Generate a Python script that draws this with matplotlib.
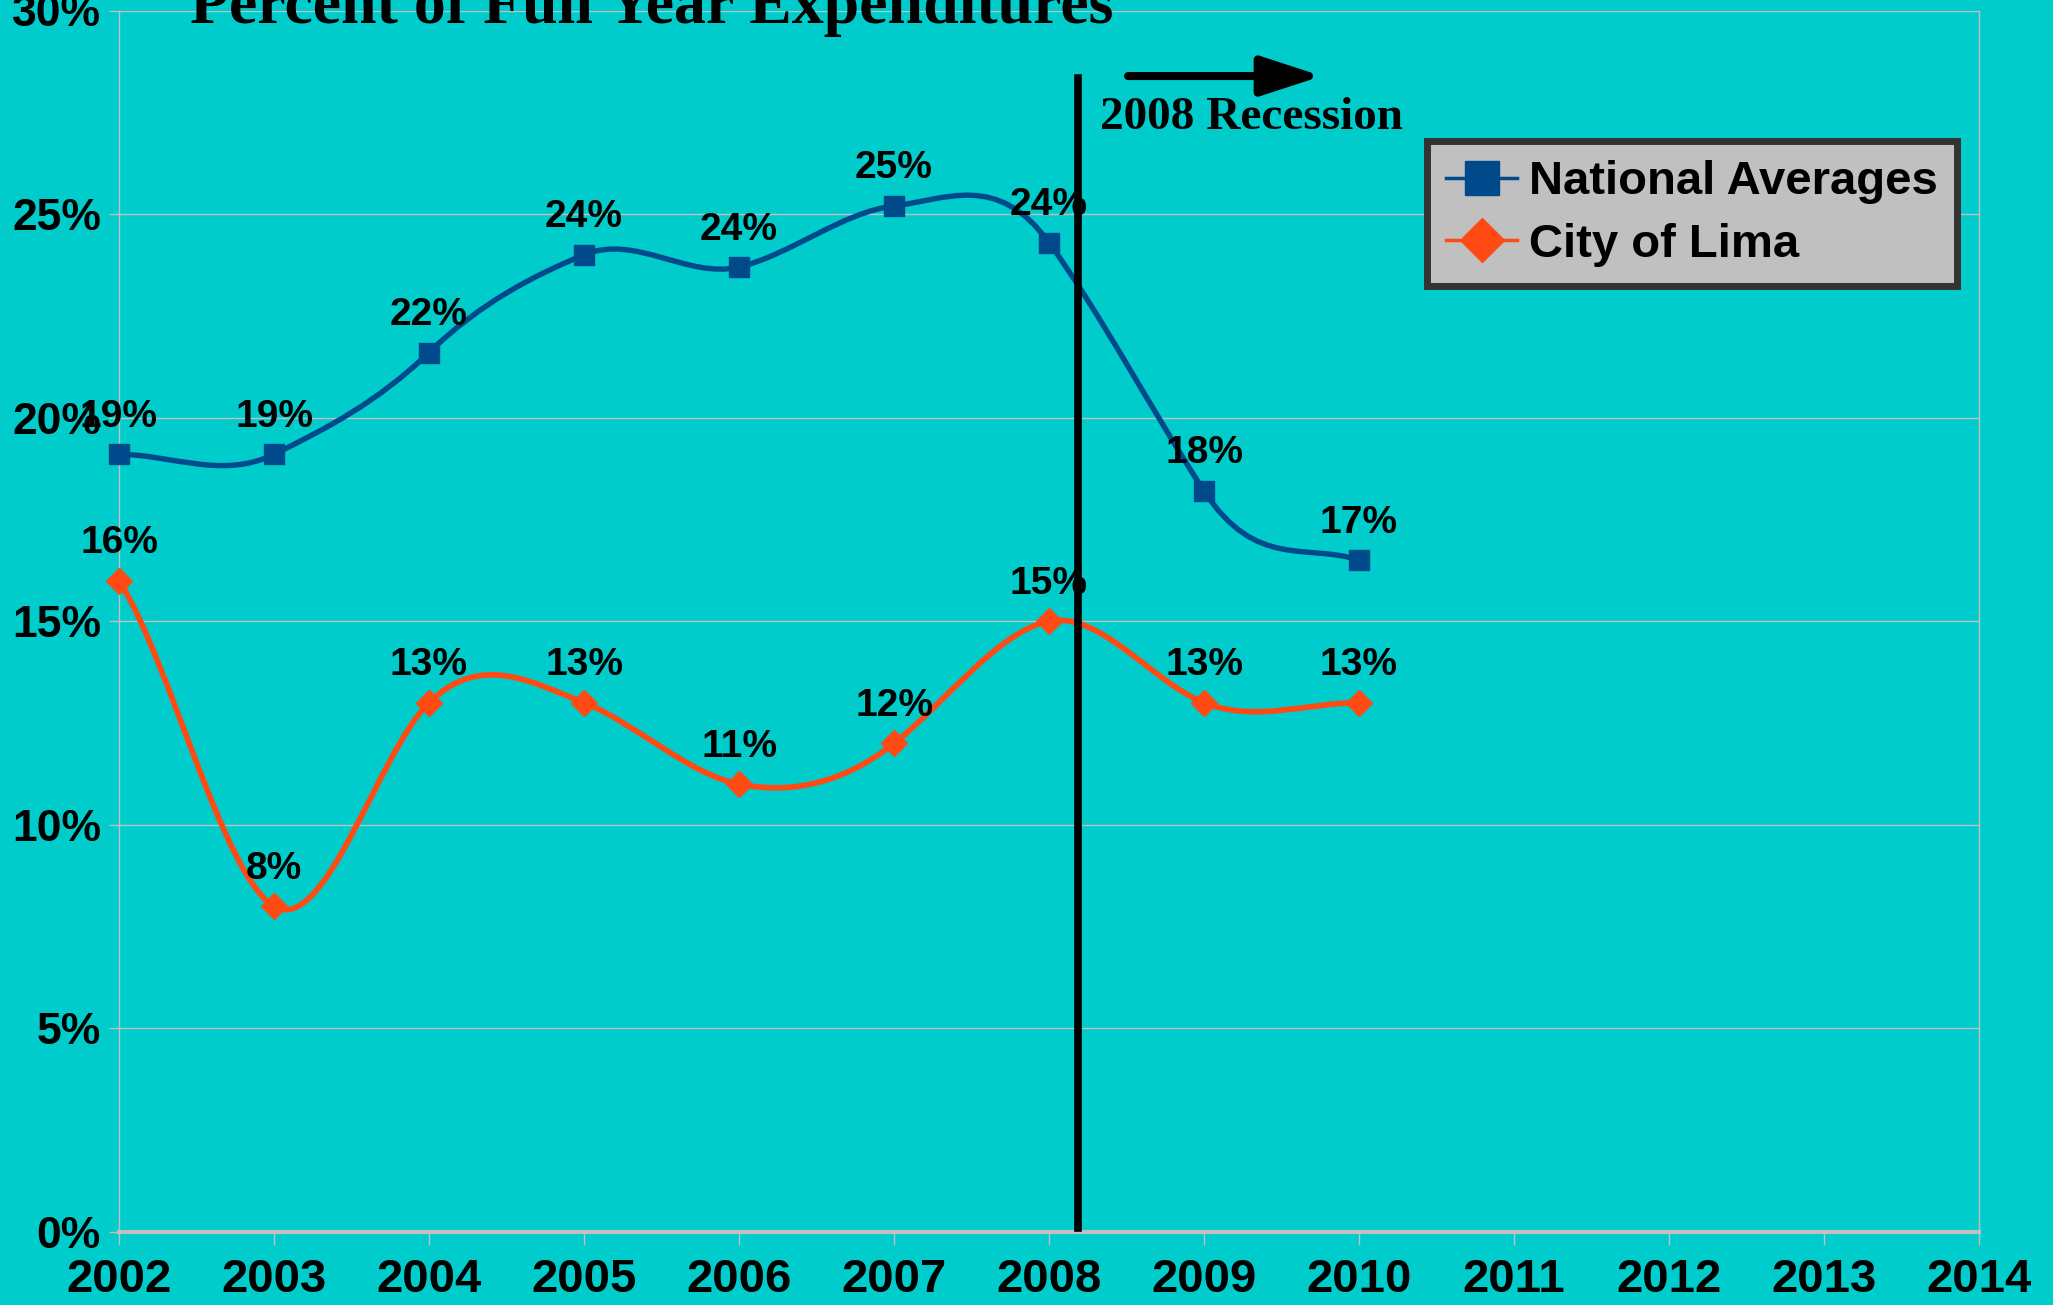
import numpy as np
import matplotlib
matplotlib.use("Agg")
import matplotlib.pyplot as plt
from matplotlib.path import Path
from matplotlib.patches import PathPatch
from matplotlib import font_manager

# datos
years = [2002, 2003, 2004, 2005, 2006, 2007, 2008, 2009, 2010]
national = [19.1, 19.1, 21.6, 24.0, 23.7, 25.2, 24.3, 18.2, 16.5]
lima = [16.0, 8.0, 13.0, 13.0, 11.0, 12.0, 15.0, 13.0, 13.0]
national_labels = ["19%", "19%", "22%", "24%", "24%", "25%", "24%", "18%", "17%"]
lima_labels = ["16%", "8%", "13%", "13%", "11%", "12%", "15%", "13%", "13%"]
x_ticks = list(range(2002, 2015))
y_ticks = [0, 5, 10, 15, 20, 25, 30]

bg = "#00CCCC"
blue = "#004A8C"
orange = "#FF4A14"
grid = "#C0C0C0"

names = {f.name for f in font_manager.fontManager.ttflist}
if "Liberation Sans Narrow" in names:
    tick_font, xsize, ysize = "Liberation Sans Narrow", 40, 36
else:
    tick_font, xsize, ysize = "Liberation Sans", 34, 32


def smooth_path(xs, ys, k=0.25):
    # curva suave tipo Excel (bezier a partir de los puntos)
    n = len(xs)
    verts = [(xs[0], ys[0])]
    codes = [Path.MOVETO]
    for i in range(n - 1):
        y0 = ys[i - 1] if i > 0 else ys[i]
        y3 = ys[i + 2] if i + 2 < n else ys[i + 1]
        dx = xs[i + 1] - xs[i]
        c1 = (xs[i] + dx / 3, ys[i] + (ys[i + 1] - y0) * k)
        c2 = (xs[i + 1] - dx / 3, ys[i + 1] - (y3 - ys[i]) * k)
        verts += [c1, c2, (xs[i + 1], ys[i + 1])]
        codes += [Path.CURVE4] * 3
    return Path(verts, codes)


fig = plt.figure(figsize=(20.53, 13.05), dpi=100, facecolor=bg)
ax = fig.add_axes([119 / 2053, 1 - 1232 / 1305, 1860 / 2053, 1221.5 / 1305])
ax.set_facecolor(bg)
ax.set_xlim(2002, 2014)
ax.set_ylim(0, 30)

# lineas suaves
ax.add_patch(PathPatch(smooth_path(years, national), fill=False, edgecolor=blue, lw=3.9, zorder=3))
ax.add_patch(PathPatch(smooth_path(years, lima), fill=False, edgecolor=orange, lw=4.1, zorder=3))
ax.plot(years, national, ls="none", marker="s", ms=14, color=blue, zorder=4, clip_on=False)
ax.plot(years, lima, ls="none", marker="D", ms=13, color=orange, zorder=4, clip_on=False)

# etiquetas de datos
for x, y, t in zip(years, national, national_labels):
    ax.annotate(t, (x, y), xytext=(0, 27), textcoords="offset points", ha="center", va="center",
                fontsize=28, fontweight="bold", family="Liberation Sans", zorder=5)
for x, y, t in zip(years, lima, lima_labels):
    ax.annotate(t, (x, y), xytext=(0, 27), textcoords="offset points", ha="center", va="center",
                fontsize=28, fontweight="bold", family="Liberation Sans", zorder=5)

# leyenda (solo para las entradas)
h1, = ax.plot([], [], color=blue, lw=2.5, marker="s", ms=24, label="National Averages")
h2, = ax.plot([], [], color=orange, lw=2.5, marker="D", ms=22, label="City of Lima")
leg = ax.legend(handles=[h1, h2], loc="upper right", bbox_to_anchor=(0.988, 0.893), borderaxespad=0,
                prop={"family": "Liberation Sans", "weight": "bold", "size": 34},
                fancybox=False, framealpha=1, facecolor="#C0C0C0", edgecolor="#333333",
                handlelength=1.5, handletextpad=0.25, labelspacing=0.4, borderpad=0.4)
leg.get_frame().set_linewidth(5)
leg.set_zorder(6)

# recesion 2008
ax.plot([2008.19, 2008.19], [0.1, 28.33], color="black", lw=5.5, zorder=7)
ax.annotate("", xy=(2009.76, 28.39), xytext=(2008.51, 28.39),
            arrowprops=dict(arrowstyle="-|>,head_length=0.92,head_width=0.3", mutation_scale=40,
                            lw=5.8, color="black", shrinkA=0, shrinkB=0), zorder=7)
ax.text(2008.33, 27.1, "2008 Recession", family="Liberation Serif", fontweight="bold",
        fontsize=34, va="baseline", ha="left", zorder=7)

# ejes y grilla
ax.set_xticks(x_ticks)
ax.set_xticklabels([str(v) for v in x_ticks], family=tick_font, fontweight="bold", fontsize=xsize)
ax.set_yticks(y_ticks)
ax.set_yticklabels([f"{v}%" for v in y_ticks], family=tick_font, fontweight="bold", fontsize=ysize)
ax.tick_params(axis="x", length=9, width=1, color=grid, pad=10)
ax.tick_params(axis="y", length=7, width=1, color=grid, pad=6)
ax.yaxis.grid(True, color=grid, lw=1)
ax.set_axisbelow(True)
for s in ["left", "right"]:
    ax.spines[s].set_color(grid)
    ax.spines[s].set_linewidth(1)
ax.spines["top"].set_visible(False)
ax.spines["bottom"].set_color(grid)
ax.spines["bottom"].set_linewidth(3)

fig.text(190 / 2053, 1 - 23 / 1305, "Percent of Full Year Expenditures", family="Liberation Serif",
         fontweight="bold", fontsize=46, va="baseline", ha="left")

fig.savefig("out.png", dpi=100, facecolor=bg)
